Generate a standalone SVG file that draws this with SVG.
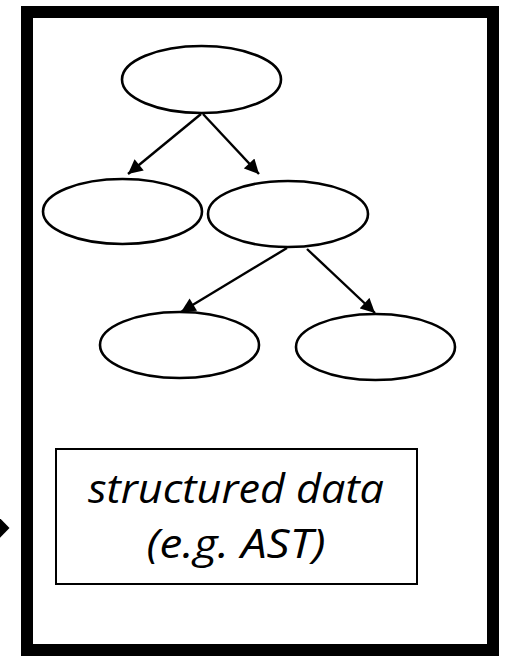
<svg xmlns="http://www.w3.org/2000/svg" width="510" height="656" viewBox="0 0 510 656">
<style>
.node{fill:#fff;stroke:#000;stroke-width:2.6}
.edge{stroke:#000;stroke-width:2.4;fill:none}
.lbl{font-family:"Open Sans","Noto Sans",sans-serif;font-style:italic;font-size:40px;fill:#000;text-anchor:middle}
</style>
<defs>
<marker id="ah" viewBox="0 0 10 10" refX="10" refY="5" markerWidth="6.5" markerHeight="6" markerUnits="strokeWidth" orient="auto">
<path d="M0,0 L10,5 L0,10 z" fill="#000"/>
</marker>
</defs>
<rect width="510" height="656" fill="#fff"/>
<g id="frame">
<rect x="27" y="12" width="466" height="638" fill="none" stroke="#000" stroke-width="12"/>
</g>
<g id="incoming-arrow">
<polygon points="-6,512 9.5,528 -6,544" fill="#000"/>
</g>
<g id="connectors">
<line class="edge" x1="201" y1="114" x2="128" y2="174" marker-end="url(#ah)"/>
<line class="edge" x1="203" y1="114" x2="259" y2="174" marker-end="url(#ah)"/>
<line class="edge" x1="287" y1="248" x2="181" y2="312" marker-end="url(#ah)"/>
<line class="edge" x1="307" y1="249" x2="375" y2="313" marker-end="url(#ah)"/>
</g>
<g id="root"><ellipse class="node" cx="201.5" cy="79.5" rx="79.5" ry="33.5"/></g>
<g id="n-left"><ellipse class="node" cx="122.5" cy="211.5" rx="79.5" ry="32.5"/></g>
<g id="n-right"><ellipse class="node" cx="288" cy="214" rx="80" ry="33"/></g>
<g id="n-right-left"><ellipse class="node" cx="179.5" cy="345" rx="79.5" ry="33"/></g>
<g id="n-right-right"><ellipse class="node" cx="375.5" cy="347" rx="79.5" ry="33"/></g>
<g id="label-box">
<rect x="56" y="449" width="361" height="135" fill="#fff" stroke="#000" stroke-width="2"/>
<text class="lbl" x="236" y="503" textLength="296" lengthAdjust="spacingAndGlyphs">structured data</text>
<text class="lbl" x="236" y="558" textLength="179" lengthAdjust="spacingAndGlyphs">(e.g. AST)</text>
</g>
</svg>
